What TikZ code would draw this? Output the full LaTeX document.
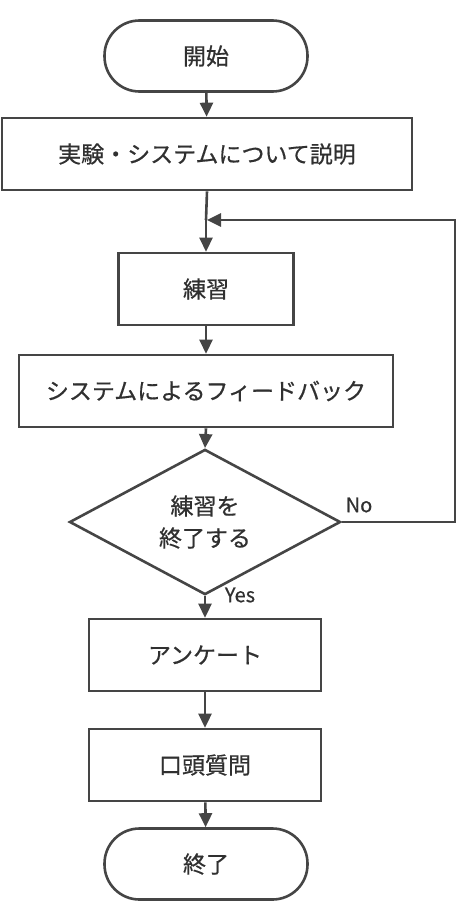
\documentclass[tikz,border=0pt]{standalone}
\usepackage{fontspec}
\setmainfont{Noto Sans CJK JP}[FakeBold=0.6]
\usetikzlibrary{arrows.meta,shapes.geometric}
\definecolor{ln}{HTML}{454545}
\definecolor{tx}{HTML}{303030}
\begin{document}
\begin{tikzpicture}[x=1pt,y=-1pt,
  every node/.style={text=tx,font=\fontsize{23pt}{30pt}\selectfont},
  box/.style={draw=ln,line width=2.6pt,rectangle,minimum height=72pt,inner sep=0pt,fill=white},
  term/.style={box,rounded corners=35pt,minimum width=203pt,minimum height=71pt},
  dec/.style={draw=ln,line width=2.6pt,diamond,minimum width=271pt,minimum height=123pt,inner sep=0pt,align=center,font=\fontsize{23pt}{32pt}\selectfont},
  lbl/.style={font=\fontsize{20pt}{24pt}\selectfont,inner sep=0pt},
  conn/.style={draw=ln,line width=2.6pt,-{Triangle[length=14pt,width=13pt]}},
  seg/.style={draw=ln,line width=2.6pt}
]
\useasboundingbox (0,0) rectangle (460,907);
\node[term] (start) at (206,56) {開始};
\node[box,minimum width=410pt] (b1) at (207,154) {実験・システムについて説明};
\node[box,minimum width=175pt] (b2) at (206,289) {練習};
\node[box,minimum width=374pt] (b3) at (206,391) {システムによるフィードバック};
\node[dec] (d) at (205,522) {練習を\\終了する};
\node[box,minimum width=232pt] (b4) at (205,655) {アンケート};
\node[box,minimum width=232pt] (b5) at (205,765) {口頭質問};
\node[term] (end) at (206,864) {終了};
\coordinate (m) at (206,220);
\coordinate (r1) at (455,522);
\coordinate (r2) at (455,220);
\draw[conn] (start) -- (b1);
\draw[seg] (b1.south) -- (m);
\draw[conn] (m) -- (b2);
\draw[conn] (b2) -- (b3);
\draw[conn] (b3.south) -- (d.north);
\draw[conn] (d.south) -- (b4.north);
\draw[conn] (b4) -- (b5);
\draw[conn] (b5) -- (end);
\draw[conn] (d.east) -- (r1) -- (r2) -- ([xshift=1pt]m);
\node[lbl] (no) at (359,505) {No};
\node[lbl] (yes) at (240,595) {Yes};
\end{tikzpicture}
\end{document}
